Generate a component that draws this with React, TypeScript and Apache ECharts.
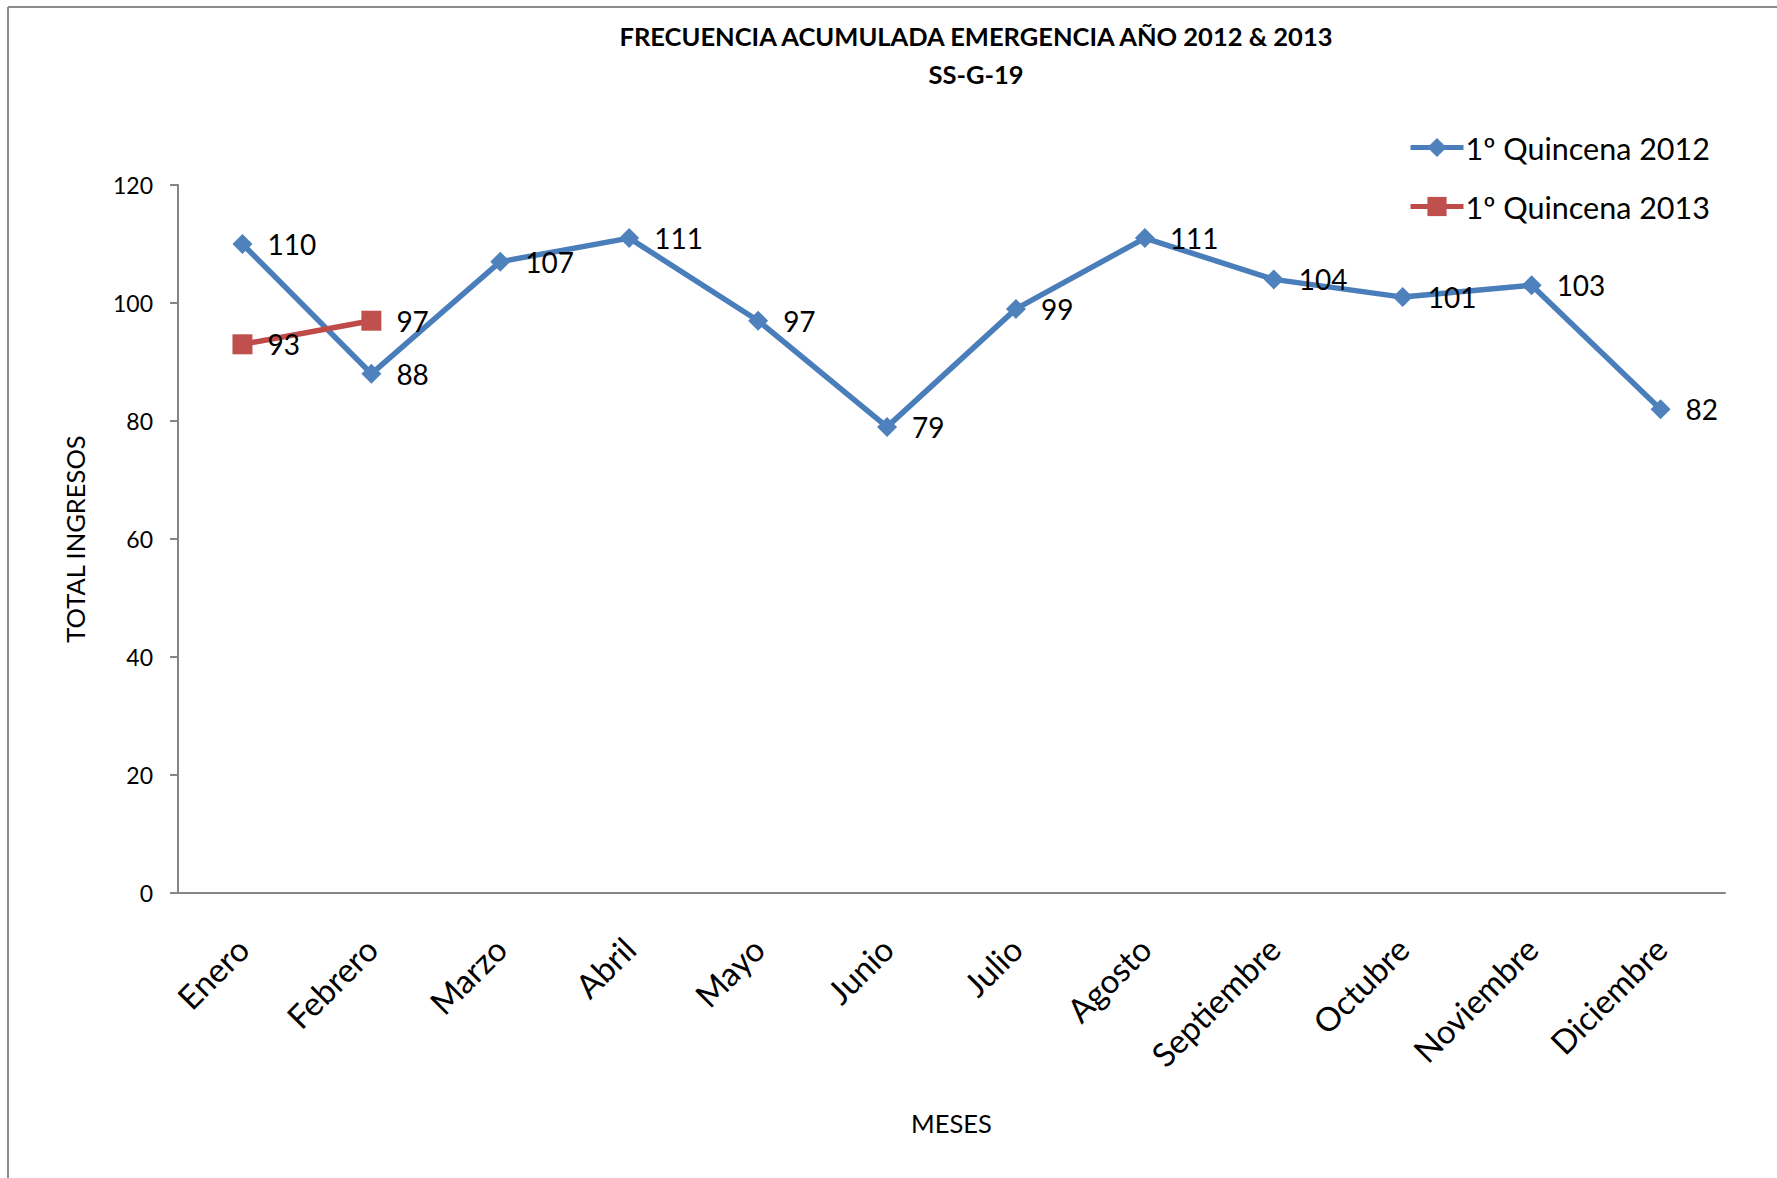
import React, { useEffect, useRef } from "react";
import * as echarts from "echarts";

const months = ["Enero", "Febrero", "Marzo", "Abril", "Mayo", "Junio", "Julio", "Agosto", "Septiembre", "Octubre", "Noviembre", "Diciembre"];
const q2012 = [110, 88, 107, 111, 97, 79, 99, 111, 104, 101, 103, 82];
const q2013 = [93, 97];
const seriesNames = ["1º Quincena 2012", "1º Quincena 2013"];
const titleText = "FRECUENCIA ACUMULADA EMERGENCIA AÑO 2012 & 2013\nSS-G-19";

const FONT = "Lato";

export default function App() {
  const ref = useRef<HTMLDivElement>(null);
  useEffect(() => {
    if (!ref.current) return;
    const chart = echarts.init(ref.current, null, { renderer: "svg" });
    const labelStyle = {
      show: true,
      position: "right" as const,
      distance: 15,
      color: "#000",
      fontFamily: FONT,
      fontSize: 28,
    };
    chart.setOption({
      animation: false,
      backgroundColor: "#fff",
      title: {
        text: titleText,
        left: 971,
        top: 12,
        textAlign: "center",
        textStyle: { fontFamily: FONT, fontWeight: "bold", fontSize: 25.5, lineHeight: 38, color: "#000" },
      },
      legend: {
        orient: "vertical",
        left: 1403,
        top: 127,
        itemWidth: 53,
        itemHeight: 24,
        itemGap: 28,
        lineStyle: { width: 5 },
        textStyle: { fontFamily: FONT, fontSize: 30.5, color: "#000", lineHeight: 26, padding: [0, 0, 0, -3] },
        data: seriesNames,
      },
      graphic: [
        { type: "line", shape: { x1: 8, y1: 7, x2: 8, y2: 1178 }, style: { stroke: "#8c8c8c", lineWidth: 2 } },
        { type: "line", shape: { x1: 8, y1: 7, x2: 1777, y2: 7 }, style: { stroke: "#8c8c8c", lineWidth: 2 } },
      ],
      grid: { left: 178, right: 52, top: 185, bottom: 285, containLabel: false },
      xAxis: {
        type: "category",
        data: months,
        boundaryGap: true,
        name: "MESES",
        nameLocation: "middle",
        nameGap: 217,
        nameTextStyle: { fontFamily: FONT, fontSize: 25.5, color: "#000" },
        axisLine: { lineStyle: { color: "#868686", width: 2 } },
        axisTick: { show: false },
        axisLabel: { rotate: 45, margin: 50, fontFamily: FONT, fontSize: 33, color: "#000" },
        splitLine: { show: false },
      },
      yAxis: {
        type: "value",
        min: 0,
        max: 120,
        interval: 20,
        name: "TOTAL INGRESOS",
        nameLocation: "middle",
        nameGap: 90,
        nameTextStyle: { fontFamily: FONT, fontSize: 25.5, color: "#000" },
        axisLine: { show: true, lineStyle: { color: "#868686", width: 2 } },
        axisTick: { show: true, length: 8, lineStyle: { color: "#868686", width: 2 } },
        axisLabel: { margin: 25, fontFamily: FONT, fontSize: 23, color: "#000" },
        splitLine: { show: false },
      },
      series: [
        {
          name: seriesNames[0],
          type: "line",
          data: q2012,
          symbol: "diamond",
          symbolSize: 20,
          lineStyle: { color: "#4A7EBB", width: 5.5 },
          itemStyle: { color: "#4F81BD" },
          label: labelStyle,
          z: 2,
        },
        {
          name: seriesNames[1],
          type: "line",
          data: q2013,
          symbol: "rect",
          symbolSize: 20,
          lineStyle: { color: "#BE4B48", width: 5.5 },
          itemStyle: { color: "#C0504D" },
          label: labelStyle,
          z: 3,
        },
      ],
    });
    return () => chart.dispose();
  }, []);
  return <div ref={ref} style={{ position: "absolute", left: 0, top: 0, width: 1777, height: 1178 }} />;
}
